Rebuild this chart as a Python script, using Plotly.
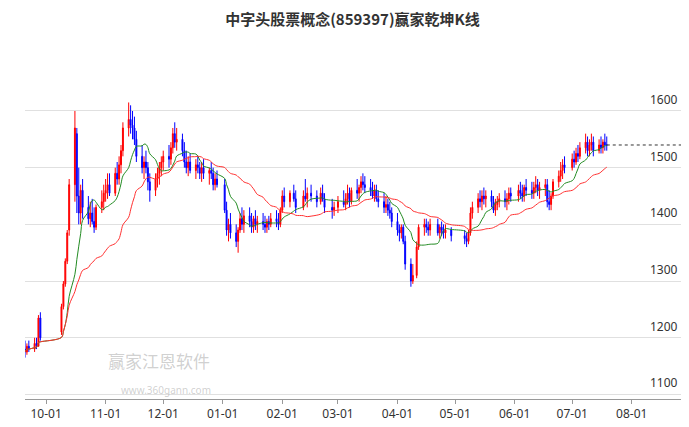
import pandas as pd
import plotly.graph_objects as go

title = "中字头股票概念(859397)赢家乾坤K线"
y_ticks = [1100, 1200, 1300, 1400, 1500, 1600]
x_ticks = ["2023-10-01","2023-11-01","2023-12-01","2024-01-01","2024-02-01","2024-03-01",
           "2024-04-01","2024-05-01","2024-06-01","2024-07-01","2024-08-01"]

# (open, high, low, close) per trading day, by month
k_sep = [(1180,1195,1165,1175),(1175,1190,1170,1185),(1185,1195,1175,1180),(1180,1200,1175,1190),(1190,1200,1180,1185),(1185,1240,1185,1235),(1235,1245,1195,1200)]
k_oct = [(1210,1260,1205,1255),(1255,1300,1250,1295),(1295,1340,1290,1335),(1335,1390,1330,1385),(1390,1480,1380,1470),(1470,1600,1440,1570),(1560,1570,1420,1450),(1450,1500,1400,1420),(1420,1470,1400,1460),(1460,1480,1410,1430),(1430,1450,1400,1410),(1410,1440,1395,1420),(1420,1445,1400,1405),(1405,1430,1385,1395),(1395,1435,1390,1430),(1430,1460,1420,1440),(1440,1470,1425,1455)]
k_nov = [(1455,1480,1440,1460),(1460,1490,1445,1470),(1470,1490,1450,1455),(1455,1500,1450,1490),(1490,1510,1470,1480),(1480,1520,1470,1505),(1505,1540,1490,1530),(1530,1580,1520,1570),(1570,1615,1555,1585),(1585,1610,1560,1575),(1575,1600,1550,1570),(1570,1590,1540,1550),(1550,1565,1510,1520),(1520,1540,1490,1500),(1500,1520,1480,1510),(1510,1530,1490,1500),(1500,1510,1460,1475),(1475,1490,1440,1460),(1460,1490,1450,1480),(1480,1500,1465,1490),(1490,1510,1470,1500),(1500,1520,1485,1510)]
k_dec = [(1510,1530,1495,1520),(1520,1540,1500,1515),(1515,1545,1505,1535),(1535,1570,1525,1560),(1560,1580,1535,1545),(1545,1570,1530,1550),(1550,1560,1520,1530),(1530,1545,1500,1510),(1510,1530,1490,1500),(1500,1520,1485,1510),(1510,1525,1490,1495),(1495,1515,1480,1505),(1505,1520,1490,1500),(1500,1510,1480,1490),(1490,1510,1475,1500),(1500,1515,1480,1490),(1490,1500,1470,1495),(1495,1510,1480,1490),(1490,1500,1460,1470),(1470,1490,1460,1480),(1480,1495,1465,1470)]
k_jan = [(1470,1480,1420,1425),(1425,1440,1380,1390),(1390,1410,1370,1400),(1400,1420,1375,1385),(1385,1400,1360,1370),(1370,1395,1350,1390),(1390,1420,1385,1410),(1410,1430,1390,1400),(1400,1425,1385,1415),(1415,1430,1395,1405),(1405,1420,1385,1395),(1395,1415,1385,1410),(1410,1425,1390,1400),(1400,1415,1385,1405),(1405,1420,1390,1400),(1400,1415,1385,1395),(1395,1410,1385,1405),(1405,1415,1390,1400),(1400,1420,1395,1410),(1410,1425,1395,1405),(1405,1420,1390,1400),(1400,1430,1395,1425)]
k_feb = [(1425,1460,1420,1450),(1450,1465,1430,1440),(1440,1460,1430,1455),(1455,1470,1440,1445),(1445,1460,1420,1430),(1430,1460,1425,1450),(1450,1480,1440,1445),(1445,1465,1430,1455),(1455,1470,1440,1450),(1450,1460,1430,1440),(1440,1465,1435,1455),(1455,1470,1440,1445),(1445,1455,1420,1430),(1430,1445,1410,1425),(1425,1440,1415,1430)]
k_mar = [(1430,1450,1420,1440),(1440,1460,1430,1435),(1435,1455,1425,1445),(1445,1470,1435,1455),(1455,1465,1430,1440),(1440,1465,1435,1460),(1460,1480,1445,1455),(1455,1470,1440,1465),(1465,1485,1455,1475),(1475,1490,1460,1470),(1470,1485,1455,1465),(1465,1480,1450,1460),(1460,1475,1445,1450),(1450,1470,1440,1460),(1460,1470,1440,1445),(1445,1460,1430,1440),(1440,1455,1420,1430),(1430,1450,1420,1435),(1435,1445,1415,1425),(1425,1440,1410,1420),(1420,1430,1395,1405)]
k_apr = [(1405,1420,1380,1390),(1390,1400,1370,1385),(1385,1400,1375,1395),(1395,1400,1365,1370),(1370,1380,1320,1330),(1330,1340,1290,1300),(1300,1330,1295,1310),(1310,1370,1305,1360),(1360,1400,1355,1395),(1395,1410,1380,1400),(1400,1410,1385,1395),(1395,1405,1380,1390),(1390,1410,1380,1400),(1400,1410,1380,1385),(1385,1400,1375,1395),(1395,1405,1380,1390),(1390,1400,1375,1385),(1385,1400,1375,1390),(1390,1395,1370,1380)]
k_may = [(1380,1390,1365,1375),(1375,1385,1360,1370),(1370,1390,1365,1385),(1385,1430,1380,1420),(1420,1440,1410,1430),(1430,1455,1420,1445),(1445,1460,1430,1440),(1440,1460,1425,1450),(1450,1465,1435,1445),(1445,1460,1430,1450),(1450,1460,1430,1440),(1440,1450,1420,1425),(1425,1445,1415,1435),(1435,1450,1425,1440),(1440,1455,1430,1445),(1445,1460,1430,1440),(1440,1455,1425,1445),(1445,1465,1435,1455),(1455,1465,1440,1450)]
k_jun = [(1450,1470,1440,1460),(1460,1475,1445,1455),(1455,1470,1440,1450),(1450,1470,1440,1465),(1465,1480,1450,1460),(1460,1475,1445,1455),(1455,1475,1445,1465),(1465,1485,1455,1470),(1470,1480,1450,1460),(1460,1475,1445,1465),(1465,1480,1450,1470),(1470,1480,1430,1440),(1440,1460,1425,1435),(1435,1455,1425,1450),(1450,1480,1445,1475),(1475,1495,1465,1485),(1485,1510,1475,1495),(1495,1515,1480,1505),(1505,1520,1490,1500)]
k_jul = [(1500,1525,1495,1515),(1515,1530,1500,1510),(1510,1535,1505,1525),(1525,1540,1510,1520),(1520,1545,1515,1535),(1535,1560,1525,1545),(1545,1555,1520,1530),(1530,1550,1520,1540),(1540,1560,1530,1545),(1545,1555,1520,1530),(1530,1550,1525,1540),(1540,1555,1525,1535),(1535,1550,1525,1545),(1545,1560,1530,1540),(1540,1555,1530,1540)]

months = [("2023-09-20","2023-09-28",k_sep),("2023-10-09","2023-10-31",k_oct),("2023-11-01","2023-11-30",k_nov),
          ("2023-12-01","2023-12-29",k_dec),("2024-01-02","2024-01-31",k_jan),("2024-02-01","2024-02-29",k_feb),
          ("2024-03-01","2024-03-29",k_mar),("2024-04-01","2024-04-30",k_apr),("2024-05-06","2024-05-31",k_may),
          ("2024-06-03","2024-06-28",k_jun),("2024-07-01","2024-07-19",k_jul)]
rows = []
for s, e, k in months:
    days = pd.bdate_range(s, e)
    step = len(days) / len(k)
    for i, v in enumerate(k):
        rows.append((days[int(i * step)],) + v)
df = pd.DataFrame(rows, columns=["d","o","h","l","c"])
df["ma_s"] = df["c"].rolling(10, min_periods=1).mean()
df["ma_l"] = df["c"].rolling(30, min_periods=1).mean()

fig = go.Figure()
fig.add_trace(go.Candlestick(x=df["d"], open=df["o"], high=df["h"], low=df["l"], close=df["c"],
    increasing=dict(line=dict(color="#ff0000", width=1), fillcolor="#ff0000"),
    decreasing=dict(line=dict(color="#0000ff", width=1), fillcolor="#0000ff"),
    whiskerwidth=0, showlegend=False, hoverinfo="skip"))
fig.add_trace(go.Scatter(x=df["d"], y=df["ma_s"], mode="lines", line=dict(color="#228b22", width=1, shape="spline"), showlegend=False))
fig.add_trace(go.Scatter(x=df["d"], y=df["ma_l"], mode="lines", line=dict(color="#ff3030", width=1, shape="spline"), showlegend=False))
last = df["c"].iloc[-1]
fig.add_trace(go.Scatter(x=[df["d"].iloc[-1], pd.Timestamp("2024-09-10")], y=[last, last], mode="lines",
    line=dict(color="#333", width=1, dash="dot"), showlegend=False))

for v in y_ticks:
    fig.add_annotation(text=str(v), x=0.975, y=v, xref="paper", yref="y", showarrow=False,
                       xanchor="right", yanchor="bottom", yshift=1, font=dict(size=12, color="#333"))

fig.add_annotation(text="赢家江恩软件", x=0.12, y=0.07, xref="paper", yref="paper", showarrow=False, xanchor="left",
                   font=dict(size=17, color="rgba(150,150,150,0.45)", family="Noto Sans CJK SC"))
fig.add_annotation(text="www.360gann.com", x=0.14, y=0.0, xref="paper", yref="paper", showarrow=False, xanchor="left",
                   font=dict(size=10, color="rgba(150,150,150,0.45)", family="Noto Sans"))

fig.update_layout(
    width=689, height=427, margin=dict(l=17, r=0, t=44, b=36),
    paper_bgcolor="white", plot_bgcolor="white",
    title=dict(text="<b>" + title + "</b>", x=0.5, y=0.985, yanchor="top", xanchor="center",
               font=dict(size=15, color="#333", family="Noto Sans CJK SC")),
    font=dict(family="Noto Sans, Noto Sans CJK SC", size=12, color="#333"),
    xaxis=dict(type="date", range=["2023-09-20", "2024-09-04"], tickvals=x_ticks, tickformat="%m-%d",
               showgrid=False, rangeslider=dict(visible=False), ticks="outside", ticklen=4,
               showline=True, linecolor="#999", tickcolor="#999"),
    yaxis=dict(side="right", range=[1092, 1704], tickvals=y_ticks, showticklabels=False,
               gridcolor="#e0e0e0", zeroline=False),
)
fig.write_html("out.html")
